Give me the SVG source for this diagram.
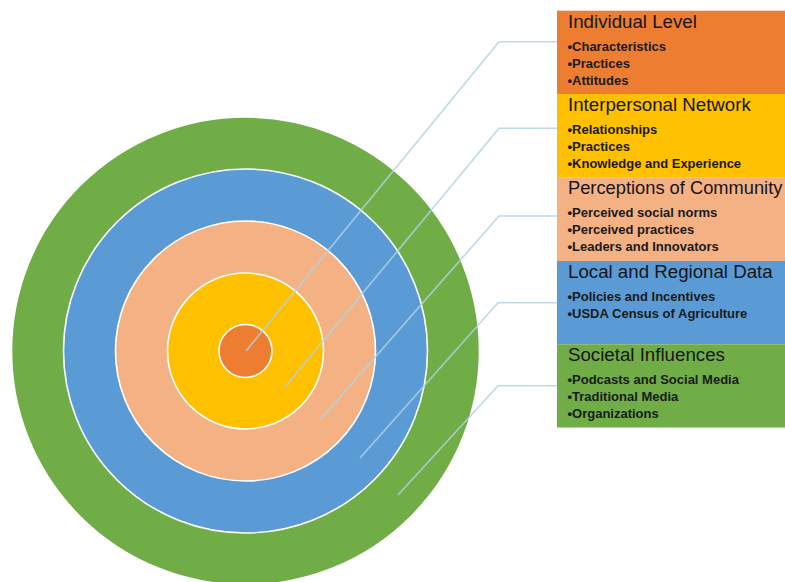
<svg xmlns="http://www.w3.org/2000/svg" width="785" height="582" viewBox="0 0 785 582">
  <style>
    .ring { stroke: #ffffff; stroke-width: 1.6; }
    .box { stroke: none; }
    .title { font-family: "Liberation Sans", Arial, sans-serif; font-size: 18.7px; fill: #161616; }
    .item { font-family: "Liberation Sans", Arial, sans-serif; font-size: 13px; font-weight: bold; fill: #1a1a1a; }
    .conn { fill: none; stroke: #b0d2e4; stroke-width: 1.6; stroke-opacity: 0.85; }
  </style>

  <rect width="785" height="582" fill="#ffffff"/>

  <!-- concentric rings, outermost first -->
  <g id="rings">
    <circle id="ring-societal" class="ring" cx="245.5" cy="351" r="234" fill="#70AD47"/>
    <circle id="ring-local" class="ring" cx="245.5" cy="351" r="182" fill="#5B9BD5"/>
    <circle id="ring-community" class="ring" cx="245.5" cy="351" r="130" fill="#F4B183"/>
    <circle id="ring-interpersonal" class="ring" cx="245.5" cy="351" r="78" fill="#FFC000"/>
    <circle id="ring-individual" class="ring" cx="245.5" cy="351" r="26.5" fill="#ED7D31"/>
  </g>

  <!-- leader lines from each ring to its panel -->
  <g id="connectors">
    <polyline class="conn" points="246,351 499,41.7 557,41.7"/>
    <polyline class="conn" points="285,387 499,128.3 557,128.3"/>
    <polyline class="conn" points="320,420 499,216 557,216"/>
    <polyline class="conn" points="360,458 498,302.7 557,302.7"/>
    <polyline class="conn" points="398,495 498,385.7 557,385.7"/>
  </g>

  <g id="panel-individual">
    <rect class="box" x="557" y="10.7" width="240" height="83.3" fill="#ED7D31"/>
    <text class="title" x="568" y="27.7">Individual Level</text>
    <text class="item" x="567.5" y="50.7">•Characteristics</text>
    <text class="item" x="567.5" y="67.7">•Practices</text>
    <text class="item" x="567.5" y="84.7">•Attitudes</text>
  </g>

  <g id="panel-interpersonal">
    <rect class="box" x="557" y="94" width="240" height="83.3" fill="#FFC000"/>
    <text class="title" x="568" y="111">Interpersonal Network</text>
    <text class="item" x="567.5" y="134">•Relationships</text>
    <text class="item" x="567.5" y="151">•Practices</text>
    <text class="item" x="567.5" y="168">•Knowledge and Experience</text>
  </g>

  <g id="panel-community">
    <rect class="box" x="557" y="177.3" width="240" height="83.7" fill="#F4B183"/>
    <text class="title" x="568" y="194.3" style="font-size:18.3px">Perceptions of Community</text>
    <text class="item" x="567.5" y="217.3">•Perceived social norms</text>
    <text class="item" x="567.5" y="234.3">•Perceived practices</text>
    <text class="item" x="567.5" y="251.3">•Leaders and Innovators</text>
  </g>

  <g id="panel-local">
    <rect class="box" x="557" y="261" width="240" height="83.3" fill="#5B9BD5"/>
    <text class="title" x="568" y="277.7">Local and Regional Data</text>
    <text class="item" x="567.5" y="300.7">•Policies and Incentives</text>
    <text class="item" x="567.5" y="317.7">•USDA Census of Agriculture</text>
  </g>

  <g id="panel-societal">
    <rect class="box" x="557" y="344.3" width="240" height="83.2" fill="#70AD47"/>
    <text class="title" x="568" y="361.3">Societal Influences</text>
    <text class="item" x="567.5" y="384.3">•Podcasts and Social Media</text>
    <text class="item" x="567.5" y="401.3">•Traditional Media</text>
    <text class="item" x="567.5" y="418.3">•Organizations</text>
  </g>
</svg>
